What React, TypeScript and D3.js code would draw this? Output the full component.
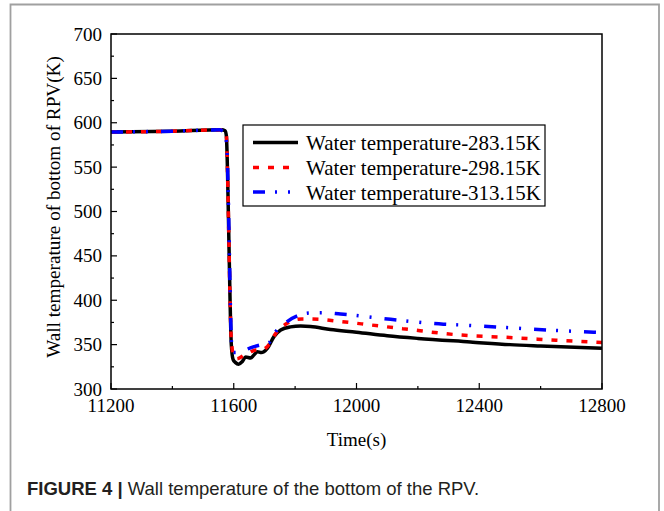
import React from "react";
import * as d3 from "d3";

const xTicks = [11200, 11600, 12000, 12400, 12800];
const xMinor = [11400, 11800, 12200, 12600];
const yTicks = [300, 350, 400, 450, 500, 550, 600, 650, 700];
const yMinor = [325, 375, 425, 475, 525, 575, 625, 675];

const seriesNames = [
  "Water temperature-283.15K",
  "Water temperature-298.15K",
  "Water temperature-313.15K",
];

const black283: [number, number][] = [
  [11200, 589.5], [11400, 590.5], [11560, 592], [11572, 591], [11576, 585],
  [11580, 540], [11584, 470], [11588, 400], [11592, 350], [11598, 333],
  [11605, 330], [11616, 328], [11628, 331], [11639, 336], [11655, 335],
  [11665, 338], [11677, 342], [11690, 341], [11698, 342], [11710, 346],
  [11731, 359], [11753, 366.5], [11785, 370], [11818, 371], [11850, 370.5],
  [11915, 367], [12000, 364], [12100, 360], [12200, 357], [12371, 353],
  [12500, 350], [12600, 348.5], [12800, 346],
];

const red298: [number, number][] = [
  [11200, 589.5], [11400, 590.5], [11560, 592], [11572, 591], [11576, 585],
  [11580, 540], [11584, 470], [11588, 400], [11592, 355], [11600, 337],
  [11610, 334], [11633, 338], [11650, 341], [11672, 344], [11690, 344],
  [11710, 348], [11737, 362.6], [11774, 374], [11823, 379], [11877, 378.5],
  [11950, 376], [12050, 372], [12150, 368], [12332, 361], [12500, 358],
  [12650, 355], [12800, 352.5],
];

const blue313: [number, number][] = [
  [11200, 589.5], [11400, 590.5], [11555, 592], [11565, 590], [11572, 587],
  [11578, 570], [11582, 520], [11586, 450], [11590, 380], [11594, 345],
  [11600, 341], [11623, 341], [11645, 345], [11666, 347.7], [11690, 350],
  [11714, 352], [11737, 364.6], [11774, 376], [11820, 384], [11845, 385.6],
  [11889, 386], [11948, 384.5], [12111, 378.5], [12283, 373], [12348, 372],
  [12500, 369], [12650, 366], [12800, 363.5],
];

const styles = [
  { color: "#000000", dash: "none" },
  { color: "#ff0000", dash: "6 9" },
  { color: "#0000ff", dash: "12 10 2 11 2 13" },
];

export default function App() {
  const L = 111, R = 602, T = 34, B = 389;
  const x = d3.scaleLinear().domain([11200, 12800]).range([L, R]);
  const y = d3.scaleLinear().domain([300, 700]).range([B, T]);
  const line = d3
    .line<[number, number]>()
    .x((d) => x(d[0]))
    .y((d) => y(d[1]))
    .curve(d3.curveMonotoneX);
  const data = [black283, red298, blue313];
  const font = "'Liberation Serif', 'Times New Roman', serif";
  const fs = 19;
  const legendFs = 21;
  const legendY = [142.5, 167.5, 192];

  return (
    <svg
      width={664}
      height={511}
      style={{ position: "absolute", left: 0, top: 0, background: "#fff" }}
    >
      <rect x={0} y={0} width={664} height={511} fill="#fff" />
      {/* outer frame */}
      <path d="M10.5,511 L10.5,4.5 L659,4.5 L659,511" fill="none" stroke="#a0a0a0" strokeWidth={1.8} />

      <defs>
        <clipPath id="plot">
          <rect x={L} y={T} width={R - L} height={B - T} />
        </clipPath>
      </defs>

      <g clipPath="url(#plot)">
        {data.map((d, i) => (
          <path
            key={i}
            d={line(d) || ""}
            fill="none"
            stroke={styles[i].color}
            strokeWidth={3.5}
            strokeDasharray={styles[i].dash}
            strokeLinejoin="round"
          />
        ))}
      </g>

      {/* axes box */}
      <rect x={L} y={T} width={R - L} height={B - T} fill="none" stroke="#000" strokeWidth={1.5} />

      {/* x ticks */}
      {xTicks.map((t) => (
        <g key={"x" + t}>
          <line x1={x(t)} x2={x(t)} y1={B} y2={B - 6} stroke="#000" strokeWidth={1.2} />
          <text x={x(t)} y={405} fontFamily={font} fontSize={fs} textAnchor="middle" dominantBaseline="central">
            {t}
          </text>
        </g>
      ))}
      {xMinor.map((t) => (
        <line key={"xm" + t} x1={x(t)} x2={x(t)} y1={B} y2={B - 3} stroke="#000" strokeWidth={1.2} />
      ))}

      {/* y ticks */}
      {yTicks.map((t) => (
        <g key={"y" + t}>
          <line x1={L} x2={L + 6} y1={y(t)} y2={y(t)} stroke="#000" strokeWidth={1.2} />
          <text x={102} y={y(t)} fontFamily={font} fontSize={fs} textAnchor="end" dominantBaseline="central">
            {t}
          </text>
        </g>
      ))}
      {yMinor.map((t) => (
        <line key={"ym" + t} x1={L} x2={L + 3} y1={y(t)} y2={y(t)} stroke="#000" strokeWidth={1.2} />
      ))}

      {/* axis titles */}
      <text
        transform={`translate(53, 207) rotate(-90)`}
        fontFamily={font}
        fontSize={19.2}
        textAnchor="middle"
        dominantBaseline="central"
      >
        Wall temperature of bottom of RPV(K)
      </text>
      <text x={(L + R) / 2} y={439} fontFamily={font} fontSize={fs} textAnchor="middle" dominantBaseline="central">
        Time(s)
      </text>

      {/* legend */}
      <rect x={243} y={125} width={302} height={81} fill="#fff" stroke="#000" strokeWidth={1.2} />
      {seriesNames.map((n, i) => (
        <g key={n}>
          <line
            x1={253}
            x2={298}
            y1={legendY[i]}
            y2={legendY[i]}
            stroke={styles[i].color}
            strokeWidth={3.5}
            strokeDasharray={styles[i].dash}
          />
          <text x={306} y={legendY[i] + 0.5} fontFamily={font} fontSize={legendFs} dominantBaseline="central">
            {n}
          </text>
        </g>
      ))}

      {/* caption */}
      <text x={27} y={494.5} fontFamily="'Liberation Sans', Arial, sans-serif" fontSize={18.5} fill="#231f20">
        <tspan fontWeight="bold">FIGURE 4 | </tspan>
        <tspan>Wall temperature of the bottom of the RPV.</tspan>
      </text>
    </svg>
  );
}
